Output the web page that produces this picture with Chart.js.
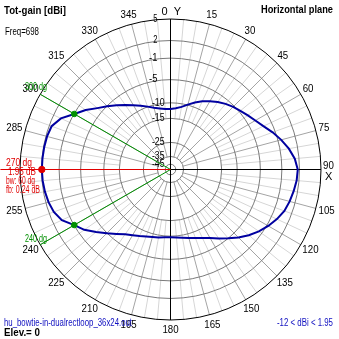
<!DOCTYPE html>
<html><head><meta charset="utf-8">
<script src="https://cdn.jsdelivr.net/npm/chart.js@4/dist/chart.umd.min.js"></script>
<style>html,body{margin:0;padding:0;background:#fff;}canvas{display:block;}</style>
</head><body>
<canvas id="c" width="339" height="339"></canvas>
<script>
// ---- data ----
const angles = [0,5,10,15,20,25,30,35,40,45,50,55,60,65,70,75,80,85,90,95,100,105,110,115,120,125,130,135,140,145,150,155,160,165,170,175,180,185,190,195,200,205,210,215,220,225,230,235,240,245,250,255,260,265,270,275,280,285,290,295,300,305,310,315,320,325,330,335,340,345,350,355];
const gainDbi = [-12.0,-11.7,-11.0,-9.9,-9.0,-8.15,-7.4,-6.6,-5.9,-5.25,-4.75,-4.15,-3.5,-2.65,-1.5,-0.45,0.5,1.28,1.71,1.6,1.33,1.04,0.67,0.03,-0.75,-1.65,-2.7,-3.85,-5.0,-6.2,-7.3,-8.1,-8.65,-9.1,-9.45,-9.65,-9.75,-9.7,-9.5,-9.3,-9.0,-8.55,-8.0,-7.3,-6.25,-4.95,-3.65,-2.15,-1.05,0.45,1.18,1.54,1.75,1.89,1.95,1.92,1.88,1.8,1.58,0.62,-1.05,-2.45,-3.95,-5.1,-6.3,-7.4,-8.35,-9.2,-9.95,-10.9,-11.5,-11.9];
const ringDb = [5,2,-1,-5,-10,-15,-25,-35,-45];
const ringLabels = ['5','2','-1','-5','-10','-15','-25','-35','-45'];
const angleTicks = [0,15,30,45,60,75,90,105,120,135,150,165,180,195,210,225,240,255,270,285,300,315,330,345];
const angleTickLabels = ['0','15','30','45','60','75','90','105','120','135','150','165','180','195','210','225','240','255','270','285','300','315','330','345'];
const maxAngle = 270, maxGain = 1.95;
const halfPowerAngles = [300, 240], halfPowerGain = -1.05;
const freqText = 'Freq=698';
const fileText = 'hu_bowtie-in-dualrectloop_36x24.out';
const rangeText = '-12 < dBi < 1.95';

// ---- scale definition (log-like ring spacing) ----
const RING_FRAC = [1, 0.857, 0.74, 0.597, 0.443, 0.34, 0.18, 0.0867, 0.035];
function frac(db){
  if (db >= ringDb[0]) return 1;
  for (let i=0;i<ringDb.length-1;i++){
    const a=ringDb[i], b=ringDb[i+1];
    if (db<=a && db>=b){ const t=(a-db)/(a-b); return RING_FRAC[i]+(RING_FRAC[i+1]-RING_FRAC[i])*t; }
  }
  return RING_FRAC[RING_FRAC.length-1];
}
function polar(angle, f){ const a=angle*Math.PI/180; return {x:f*Math.sin(a), y:f*Math.cos(a)}; }
function toXY(angle, db){ return polar(angle, frac(db)); }

const patternPts = angles.map((a,i)=>toXY(a,gainDbi[i]));
patternPts.push(patternPts[0]);

const FONT = '"Liberation Sans", Arial, sans-serif';
function txt(ctx,s,x,y,font,color,align,maxW){
  ctx.font=font; ctx.fillStyle=color; ctx.textAlign=align||'left'; ctx.textBaseline='middle';
  if (maxW) ctx.fillText(s,x,y,maxW); else ctx.fillText(s,x,y);
}

const gridPlugin = {
  id:'polarGrid',
  beforeDatasetsDraw(chart){
    const ctx=chart.ctx, xs=chart.scales.x, ys=chart.scales.y;
    const cx=xs.getPixelForValue(0), cy=ys.getPixelForValue(0);
    const R=xs.getPixelForValue(1)-cx;
    const P=(ang,f)=>{const p=polar(ang,f);return [xs.getPixelForValue(p.x), ys.getPixelForValue(p.y)];};
    ctx.save();
    ctx.lineWidth=1;
    // fine 5-degree lines
    for(let a=0;a<360;a+=5){
      if(a%15===0) continue;
      const p0=P(a,frac(-15)), p1=P(a,1);
      ctx.strokeStyle='#d6d6d6'; ctx.beginPath(); ctx.moveTo(p0[0],p0[1]); ctx.lineTo(p1[0],p1[1]); ctx.stroke();
    }
    // 15-degree lines
    for(let a=0;a<360;a+=15){
      if(a%90===0) continue;
      const p0=P(a,frac(-35)), p1=P(a,1);
      ctx.strokeStyle='#a4a4a4'; ctx.beginPath(); ctx.moveTo(p0[0],p0[1]); ctx.lineTo(p1[0],p1[1]); ctx.stroke();
    }
    // rings
    ringDb.forEach((d,i)=>{
      ctx.strokeStyle = i===0 ? '#000' : '#7a7a7a';
      ctx.beginPath(); ctx.arc(cx,cy,frac(d)*R,0,Math.PI*2); ctx.stroke();
    });
    // main axes
    ctx.strokeStyle='#000';
    ctx.beginPath(); ctx.moveTo(cx,cy-R); ctx.lineTo(cx,cy+R); ctx.moveTo(cx-R,cy); ctx.lineTo(cx+R,cy); ctx.stroke();
    // ring labels
    ringDb.forEach((d,i)=>{
      const r=frac(d)*R;
      const xr = r>80 ? cx-13 : cx-6;
      txt(ctx, ringLabels[i], xr, cy-r, '10px '+FONT, '#000', 'right', ringLabels[i].length*4.2);
    });
    ctx.restore();
  },
  afterDatasetsDraw(chart){
    const ctx=chart.ctx, xs=chart.scales.x, ys=chart.scales.y;
    const cx=xs.getPixelForValue(0), cy=ys.getPixelForValue(0);
    const R=xs.getPixelForValue(1)-cx;
    ctx.save();
    // angle labels
    angleTicks.forEach((a,i)=>{
      const s=angleTickLabels[i];
      const rad=a*Math.PI/180, sn=Math.sin(rad), cs=Math.cos(rad);
      const w=s.length*5.4;
      const px=cx+R*sn, py=cy-R*cs;
      if(a===0){ txt(ctx,s,cx-6,cy-R-7,'11px '+FONT,'#000','center'); txt(ctx,'Y',cx+7,cy-R-7,'11px '+FONT,'#000','center'); return; }
      if(a===90){ txt(ctx,s,cx+R+2,cy-4,'11px '+FONT,'#000','left',w); txt(ctx,'X',cx+R+4,cy+7,'11px '+FONT,'#000','left'); return; }
      if(a===maxAngle) return;
      txt(ctx,s,px+sn*(w/2+3),py-cs*10,'11px '+FONT,'#000','center',w);
    });
    // titles
    txt(ctx,'Tot-gain [dBi]',4,11,'bold 11px '+FONT,'#000','left',62);
    txt(ctx,'Horizontal plane',333,10,'bold 11px '+FONT,'#000','right',72);
    txt(ctx,freqText,5,32,'10px '+FONT,'#000','left',34);
    txt(ctx,fileText,4,323,'10px '+FONT,'#1010c0','left',128);
    txt(ctx,'Elev.= 0',4,333,'bold 11px '+FONT,'#000','left',36);
    txt(ctx,rangeText,333,323,'10px '+FONT,'#1010c0','right',56);
    // max annotation (red)
    const red='#e00000';
    txt(ctx,maxAngle+' dg',6,163,'10px '+FONT,red,'left',26);
    txt(ctx,maxGain.toFixed(2)+' dB',8,172,'10px '+FONT,red,'left',28);
    txt(ctx,'bw: '+(halfPowerAngles[0]-halfPowerAngles[1])+' dg',6,181.5,'10px '+FONT,red,'left',29);
    txt(ctx,'fb: 0.24 dB',6,190.5,'10px '+FONT,red,'left',34);
    // half-power annotations (green)
    const g='#009000';
    txt(ctx,halfPowerAngles[0]+' dg',25,87,'10px '+FONT,g,'left',22);
    txt(ctx,halfPowerAngles[1]+' dg',25,239,'10px '+FONT,g,'left',22);
    ctx.restore();
  }
};

new Chart(document.getElementById('c'), {
  type:'scatter',
  data:{ datasets:[
    { label:'max', data:[toXY(maxAngle,maxGain)], pointRadius:3.2, pointBackgroundColor:'#e00000', pointBorderColor:'#e00000', order:0 },
    { label:'half', data:halfPowerAngles.map(a=>toXY(a,halfPowerGain)), pointRadius:2.8, pointBackgroundColor:'#009000', pointBorderColor:'#009000', order:1 },
    { label:'pattern', data:patternPts, showLine:true, borderColor:'#0000a0', borderWidth:2, pointRadius:0, tension:0, order:2 },
    { label:'maxLine', data:[polar(maxAngle,1.13), polar(maxAngle,0)], showLine:true, borderColor:'#e00000', borderWidth:1, pointRadius:0, clip:false, order:3 },
    { label:'hp1', data:[polar(halfPowerAngles[0],1), polar(halfPowerAngles[0],0)], showLine:true, borderColor:'#009000', borderWidth:1, pointRadius:0, order:4 },
    { label:'hp2', data:[polar(halfPowerAngles[1],1), polar(halfPowerAngles[1],0)], showLine:true, borderColor:'#009000', borderWidth:1, pointRadius:0, order:5 }
  ]},
  options:{
    responsive:false, animation:false, events:[],
    layout:{ padding:{left:20,right:18,top:19,bottom:19} },
    scales:{
      x:{ type:'linear', min:-1, max:1, display:false },
      y:{ type:'linear', min:-1, max:1, display:false }
    },
    plugins:{ legend:{display:false}, tooltip:{enabled:false} }
  },
  plugins:[gridPlugin]
});
</script>
</body></html>
